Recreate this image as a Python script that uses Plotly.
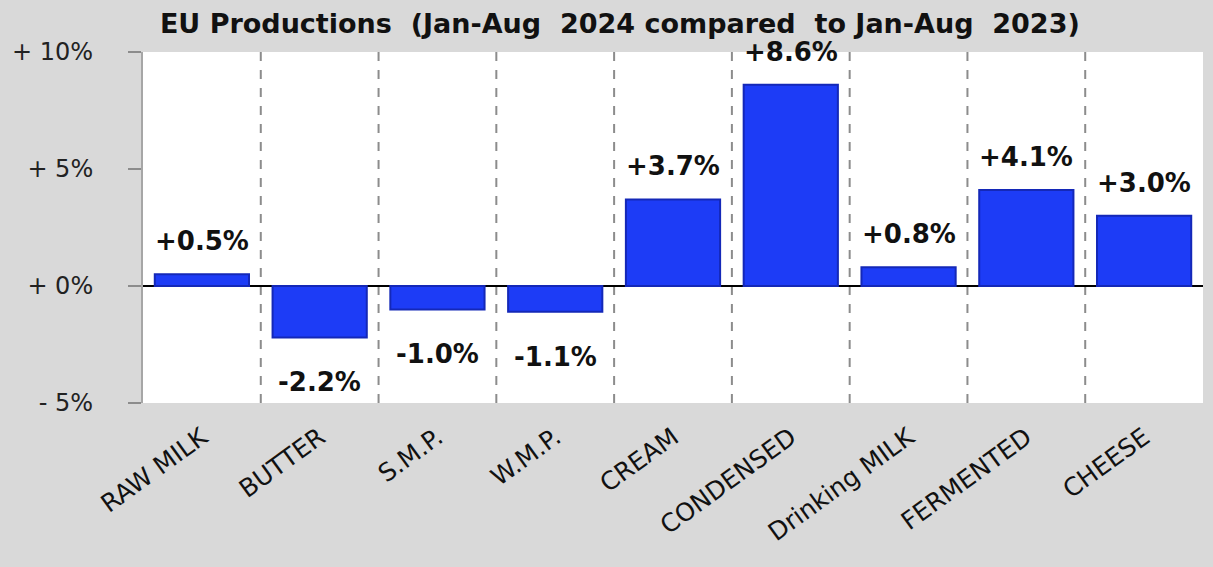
import plotly.graph_objects as go

categories = ["RAW MILK", "BUTTER", "S.M.P.", "W.M.P.", "CREAM", "CONDENSED",
              "Drinking MILK", "FERMENTED", "CHEESE"]
values = [0.5, -2.2, -1.0, -1.1, 3.7, 8.6, 0.8, 4.1, 3.0]
tick_vals = [-5, 0, 5, 10]
tick_text = ["- 5%", "+ 0%", "+ 5%", "+ 10%"]
title_text = "EU Productions  (Jan-Aug  2024 compared  to Jan-Aug  2023)"

FONT = "'DejaVu Sans', sans-serif"

fig = go.Figure()
fig.add_trace(go.Bar(
    x=list(range(len(categories))), y=values,
    width=0.8,
    marker=dict(color="#1d3cf6", line=dict(color="#1428b8", width=2)),
    hoverinfo="skip",
))

for i, v in enumerate(values):
    fig.add_annotation(
        x=i, y=v, xref="x", yref="y",
        text=f"{v:+.1f}%", showarrow=False,
        yshift=33 if v >= 0 else -45,
        font=dict(family=FONT, size=26, color="#111111", weight="bold"),
    )

for i in range(len(categories) - 1):
    fig.add_shape(type="line", xref="x", yref="paper",
                  x0=i + 0.5, x1=i + 0.5, y0=0, y1=1,
                  line=dict(color="#8c8c8c", width=2, dash="dash"), layer="below")

fig.update_layout(
    width=1213, height=567,
    paper_bgcolor="#d9d9d9", plot_bgcolor="#ffffff",
    margin=dict(l=143, r=10, t=52, b=164),
    showlegend=False,
    title=dict(text=title_text, x=0.511, xref="container", xanchor="center",
               y=0.958, yref="container", yanchor="middle",
               font=dict(family=FONT, size=27, color="#111111", weight="bold")),
    xaxis=dict(range=[-0.5, len(categories) - 0.5],
               tickvals=list(range(len(categories))), ticktext=categories,
               tickangle=-36, showgrid=False, zeroline=False, showline=False,
               ticks="", ticklabelstandoff=14,
               tickfont=dict(family=FONT, size=25, color="#111111")),
    yaxis=dict(range=[-5, 10], tickvals=tick_vals, ticktext=tick_text,
               showgrid=False, zeroline=True, zerolinecolor="#000000", zerolinewidth=2,
               showline=True, linecolor="#a6a6a6", linewidth=2,
               ticks="outside", ticklen=13, tickcolor="#8c8c8c", tickwidth=2,
               ticklabelstandoff=30,
               tickfont=dict(family=FONT, size=24, color="#222222")),
)

fig.write_html("out.html", config={"displayModeBar": False},
               post_script="document.body.style.margin='0';")
